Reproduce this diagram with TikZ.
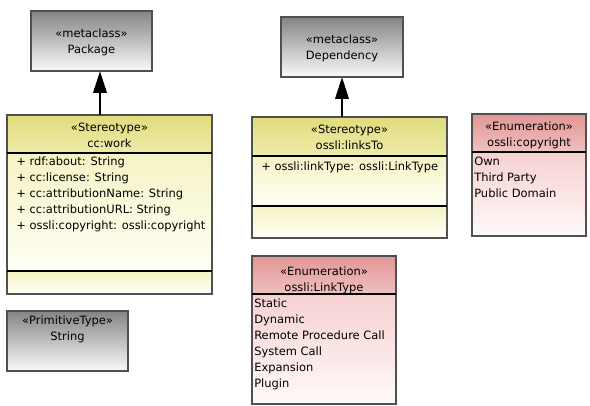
\documentclass[tikz,border=0pt]{standalone}
\usepackage{fontspec}
\setmainfont{DejaVu Sans}
\usetikzlibrary{arrows.meta}
\definecolor{gtop}{RGB}{132,132,132}
\definecolor{gbot}{RGB}{250,250,250}
\definecolor{yhtop}{RGB}{224,220,125}
\definecolor{yhbot}{RGB}{238,235,170}
\definecolor{ybtop}{RGB}{245,243,196}
\definecolor{ybbot}{RGB}{255,255,246}
\definecolor{phtop}{RGB}{226,150,150}
\definecolor{phbot}{RGB}{240,192,192}
\definecolor{pbtop}{RGB}{246,208,208}
\definecolor{pbbot}{RGB}{255,250,250}
\definecolor{frame}{RGB}{80,80,80}
\begin{document}
\begin{tikzpicture}[x=0.75pt,y=-0.75pt,
  font=\fontsize{8.6}{12}\selectfont,
  box/.style 2 args={minimum width=#1*0.75pt, minimum height=#2*0.75pt,
     anchor=north west, inner sep=0pt, outer sep=0pt},
  outline/.style={draw=frame, line width=0.9pt},
  divider/.style={draw=black, line width=1.1pt},
  grayfill/.style={top color=gtop, bottom color=gbot},
  yhead/.style={top color=yhtop, bottom color=yhbot},
  ybody/.style={top color=ybtop, bottom color=ybbot},
  phead/.style={top color=phtop, bottom color=phbot},
  pbody/.style={top color=pbtop, bottom color=pbbot},
  ctext/.style={align=center, inner sep=0pt, anchor=center},
  ltext/.style={align=left, inner sep=0pt, anchor=north west},
  gen/.style={line width=2pt, -{Triangle[length=16.5pt,width=10pt]}}]
\useasboundingbox (0,0) rectangle (590,406);

% ---------- Package ----------
\node[box={121}{60}, grayfill, outline] (pkg) at (31,11) {};
\node[ctext] (pkgt) at (91.5,42) {«metaclass»\\Package};

% ---------- Dependency ----------
\node[box={122}{60}, grayfill, outline] (dep) at (281,17) {};
\node[ctext] (dept) at (342,48) {«metaclass»\\Dependency};

% ---------- String ----------
\node[box={121}{60}, grayfill, outline] (str) at (7,311) {};
\node[ctext] (strt) at (67.5,329) {«PrimitiveType»\\String};

% ---------- cc:work ----------
\node[box={205}{38}, yhead] (wh) at (7,115) {};
\node[box={205}{118}, ybody] (wb) at (7,153) {};
\node[box={205}{23}, ybody] (wo) at (7,271) {};
\node[box={205}{179}, outline] (work) at (7,115) {};
\draw[divider] (wh.south west) -- (wh.south east);
\draw[divider] (wb.south west) -- (wb.south east);
\node[ctext] (wht) at (109.5,135) {«Stereotype»\\cc:work};
\node[ltext] (wbt) at (16,157) {+ rdf:about: String\\+ cc:license: String\\+ cc:attributionName: String\\+ cc:attributionURL: String\\+ ossli:copyright: ossli:copyright};

% ---------- ossli:linksTo ----------
\node[box={195}{39}, yhead] (lh) at (252,117) {};
\node[box={195}{50}, ybody] (lb) at (252,156) {};
\node[box={195}{32}, ybody] (lo) at (252,206) {};
\node[box={195}{121}, outline] (links) at (252,117) {};
\draw[divider] (lh.south west) -- (lh.south east);
\draw[divider] (lb.south west) -- (lb.south east);
\node[ctext] (lht) at (349.5,137) {«Stereotype»\\ossli:linksTo};
\node[ltext] (lbt) at (261,162) {+ ossli:linkType: ossli:LinkType};

% ---------- ossli:copyright ----------
\node[box={114}{38}, phead] (ch) at (472,114) {};
\node[box={114}{84}, pbody] (cb) at (472,152) {};
\node[box={114}{122}, outline] (copy) at (472,114) {};
\draw[divider] (ch.south west) -- (ch.south east);
\node[ctext] (cht) at (529,135) {«Enumeration»\\ossli:copyright};
\node[ltext] (cbt) at (474,157) {Own\\Third Party\\Public Domain};

% ---------- ossli:LinkType ----------
\node[box={144}{38}, phead] (th) at (252,256) {};
\node[box={144}{110}, pbody] (tb) at (252,294) {};
\node[box={144}{148}, outline] (ltype) at (252,256) {};
\draw[divider] (th.south west) -- (th.south east);
\node[ctext] (tht) at (324,280) {«Enumeration»\\ossli:LinkType};
\node[ltext] (tbt) at (254,299) {Static\\Dynamic\\Remote Procedure Call\\System Call\\Expansion\\Plugin};

% ---------- generalisation-like arrows ----------
\coordinate (xa) at (100,0);
\coordinate (xb) at (342,0);
\draw[gen] (work.north -| xa) -- (pkg.south -| xa);
\draw[gen] (links.north -| xb) -- (dep.south -| xb);
\end{tikzpicture}
\end{document}
